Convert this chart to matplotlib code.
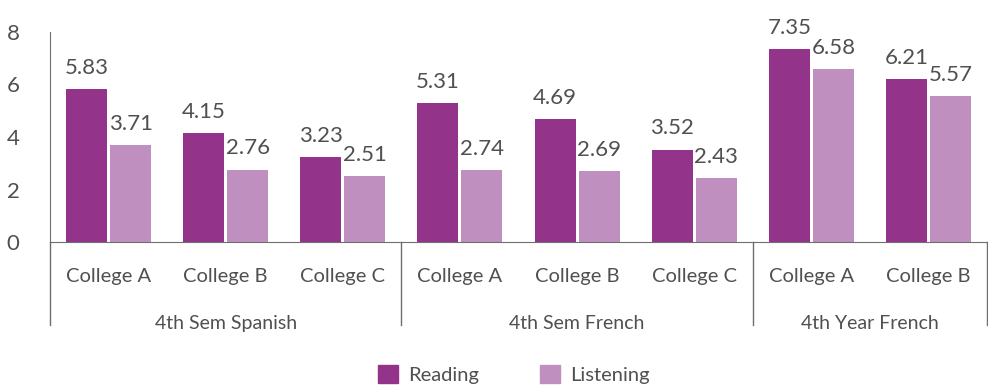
import numpy as np
import matplotlib.pyplot as plt
from matplotlib.patches import Patch

plt.rcParams['font.family'] = ['Lato', 'DejaVu Sans']

# data
colleges = ['College A', 'College B', 'College C',
            'College A', 'College B', 'College C',
            'College A', 'College B']
groups = ['4th Sem Spanish', '4th Sem French', '4th Year French']
group_sizes = [3, 3, 2]
reading = [5.83, 4.15, 3.23, 5.31, 4.69, 3.52, 7.35, 6.21]
listening = [3.71, 2.76, 2.51, 2.74, 2.69, 2.43, 6.58, 5.57]

c_read = '#93338a'
c_listen = '#bf8fbf'
txt = '#505050'
ax_col = '#6e6e6e'

fig = plt.figure(figsize=(9.88, 3.85), dpi=100)
ax = fig.add_axes([0.0506, 0.3714, 0.9484, 0.5455])

x = np.arange(len(colleges))
w = 0.35
b1 = ax.bar(x - w / 2 - 0.013, reading, w, color=c_read, label='Reading')
b2 = ax.bar(x + w / 2 + 0.013, listening, w, color=c_listen, label='Listening')

for bars, vals in ((b1, reading), (b2, listening)):
    for r, v in zip(bars, vals):
        ax.annotate(f'{v:.2f}', (r.get_x() + r.get_width() / 2, v),
                    xytext=(0, 8), textcoords='offset points',
                    ha='center', va='bottom', fontsize=16, color=txt)

ax.set_xlim(-0.5, len(colleges) - 0.5)
ax.set_ylim(0, 8)
ax.set_yticks([0, 2, 4, 6, 8])
ax.tick_params(axis='y', length=0, labelsize=16, labelcolor=txt, pad=22)
ax.set_xticks([])
for s in ('top', 'right'):
    ax.spines[s].set_visible(False)
ax.spines['left'].set_color(ax_col)
ax.spines['bottom'].set_color(ax_col)

# category labels under the axis
for xi, name in zip(x, colleges):
    ax.text(xi, -1.3, name, ha='center', va='center', fontsize=14.5,
            color=txt, clip_on=False)

# group labels and separators
edges = np.concatenate([[0], np.cumsum(group_sizes)]) - 0.5
for i, g in enumerate(groups):
    mid = (edges[i] + edges[i + 1]) / 2
    ax.text(mid, -3.1, g, ha='center', va='center', fontsize=14,
            color=txt, clip_on=False)
for e in edges:
    ax.plot([e, e], [0, -3.15], color=ax_col, lw=1, clip_on=False)

handles = [Patch(color=c_read, label='Reading'),
           Patch(color=c_listen, label='Listening')]
fig.legend(handles=handles, loc='lower center', bbox_to_anchor=(0.52, -0.045),
           ncol=2, frameon=False, fontsize=14.5, handlelength=1.0,
           handleheight=1.0, handletextpad=0.5, columnspacing=3.0,
           labelcolor=txt)

fig.savefig('out.png', dpi=100)
